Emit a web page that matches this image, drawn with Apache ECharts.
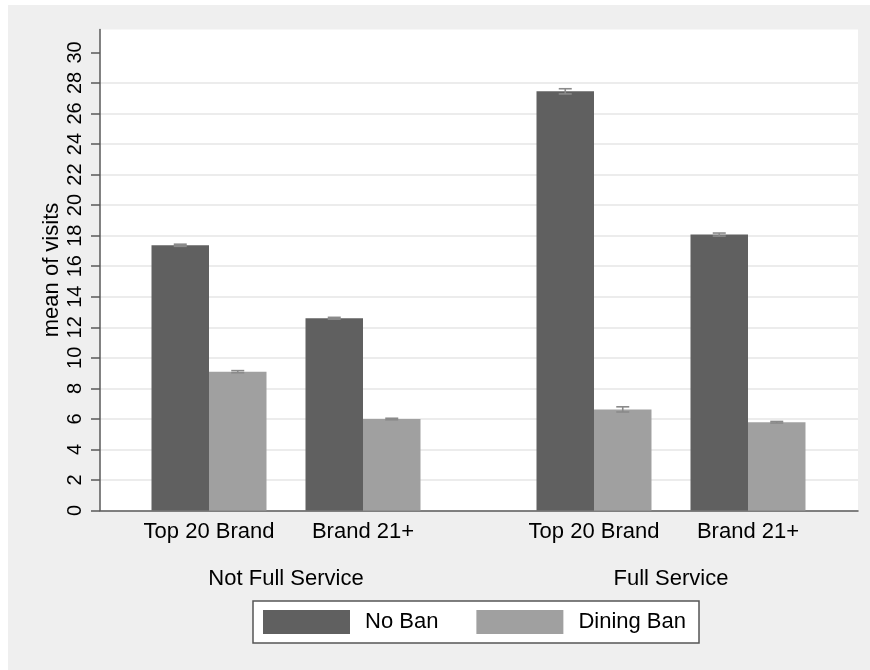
<!DOCTYPE html>
<html>
<head>
<meta charset="utf-8">
<script src="https://cdn.jsdelivr.net/npm/echarts@6/dist/echarts.min.js"></script>
<style>
  html, body { margin: 0; padding: 0; background: #ffffff; }
  #chart { position: absolute; left: 8px; top: 5px; width: 862px; height: 665px; }
</style>
</head>
<body>
<div id="chart"></div>
<script>
// ---- data ----
const groups = ['Not Full Service', 'Full Service'];
const brands = ['Top 20 Brand', 'Brand 21+'];
const seriesNames = ['No Ban', 'Dining Ban'];
// order: NFS Top20, NFS Brand21+, FS Top20, FS Brand21+
const noBan = [17.37, 12.59, 27.45, 18.07];
const noBanErr = [0.07, 0.06, 0.17, 0.10];
const diningBan = [9.09, 5.99, 6.62, 5.78];
const diningBanErr = [0.07, 0.05, 0.17, 0.05];
const yTicks = [0, 2, 4, 6, 8, 10, 12, 14, 16, 18, 20, 22, 24, 26, 28, 30];

// ---- layout helpers (slot positions on the x scale) ----
const slotX = [];
const slotLabel = {};
groups.forEach((g, gi) => brands.forEach((b, bi) => {
  const x = gi * 5 + bi * 2 + 1;
  slotX.push(x);
  slotLabel[x] = b;
}));
const groupX = groups.map((g, gi) => gi * 5 + 2);
const groupLabel = {};
groups.forEach((g, gi) => { groupLabel[groupX[gi]] = g; });

const FONT = "'Liberation Sans', Arial, sans-serif";
const BAR_W = 57.5;
const colors = ['#606060', '#a0a0a0'];

function errSeries(vals, errs, side) {
  return {
    type: 'custom',
    name: 'err' + side,
    z: 5,
    silent: true,
    data: vals.map((v, i) => [slotX[i], v, errs[i]]),
    renderItem: function (params, api) {
      const x = api.value(0), y = api.value(1), e = api.value(2);
      const hi = api.coord([x, y + e]);
      const lo = api.coord([x, y - e]);
      const cx = hi[0] + side * BAR_W / 2;
      const cap = 6.5;
      const st = { stroke: '#8a8a8a', lineWidth: 1.6, fill: null };
      return {
        type: 'group',
        children: [
          { type: 'line', shape: { x1: cx, y1: hi[1], x2: cx, y2: lo[1] }, style: st },
          { type: 'line', shape: { x1: cx - cap, y1: hi[1], x2: cx + cap, y2: hi[1] }, style: st },
          { type: 'line', shape: { x1: cx - cap, y1: lo[1], x2: cx + cap, y2: lo[1] }, style: st }
        ]
      };
    }
  };
}

const chart = echarts.init(document.getElementById('chart'), null, { renderer: 'canvas' });
chart.setOption({
  backgroundColor: '#efefef',
  animation: false,
  textStyle: { fontFamily: FONT },
  grid: { left: 92, top: 24.5, width: 758, height: 481, show: true, backgroundColor: '#ffffff', borderWidth: 0 },
  legend: {
    left: 245, top: 596,
    orient: 'horizontal',
    data: seriesNames,
    icon: 'rect',
    itemWidth: 87, itemHeight: 24, itemGap: 38,
    padding: [9, 13, 9, 10],
    backgroundColor: '#ffffff',
    borderColor: '#555555', borderWidth: 1.5,
    textStyle: { fontSize: 22, color: '#000', fontFamily: FONT, padding: [0, 0, 0, 10] }
  },
  xAxis: [
    {
      type: 'value', min: -0.4156, max: 9.4286,
      axisLine: { show: true, onZero: false, lineStyle: { color: '#5a5a5a', width: 1.5 } },
      axisTick: { show: false },
      splitLine: { show: false },
      axisLabel: {
        customValues: slotX,
        formatter: v => slotLabel[Math.round(v)] || '',
        fontSize: 22, color: '#000', fontFamily: FONT, margin: 10
      }
    },
    {
      type: 'value', min: -0.4156, max: 9.4286, position: 'bottom', offset: 47,
      axisLine: { show: false, onZero: false }, axisTick: { show: false }, splitLine: { show: false },
      axisLabel: {
        customValues: groupX,
        formatter: v => groupLabel[Math.round(v)] || '',
        fontSize: 22, color: '#000', fontFamily: FONT, margin: 10
      }
    }
  ],
  yAxis: {
    type: 'value', min: 0, max: 31.5, interval: 2,
    name: 'mean of visits', nameLocation: 'middle', nameRotate: 90, nameGap: 37,
    nameMoveOverlap: false,
    nameTextStyle: { fontSize: 22, color: '#000', fontFamily: FONT },
    axisLine: { show: true, onZero: false, lineStyle: { color: '#5a5a5a', width: 1.5 } },
    axisTick: { show: true, length: 9, customValues: yTicks, lineStyle: { color: '#5a5a5a', width: 1.5 } },
    axisLabel: { customValues: yTicks, rotate: 90, fontSize: 20, color: '#000', fontFamily: FONT, margin: 15 },
    splitLine: { show: true, showMaxLine: false, showMinLine: false, lineStyle: { color: '#e6e6e6', width: 1.5 } }
  },
  series: [
    {
      type: 'bar', name: seriesNames[0], barWidth: BAR_W, barGap: '0%',
      itemStyle: { color: colors[0] },
      data: noBan.map((v, i) => [slotX[i], v])
    },
    {
      type: 'bar', name: seriesNames[1], barWidth: BAR_W, barGap: '0%',
      itemStyle: { color: colors[1] },
      data: diningBan.map((v, i) => [slotX[i], v])
    },
    errSeries(noBan, noBanErr, -1),
    errSeries(diningBan, diningBanErr, 1)
  ]
});
</script>
</body>
</html>
